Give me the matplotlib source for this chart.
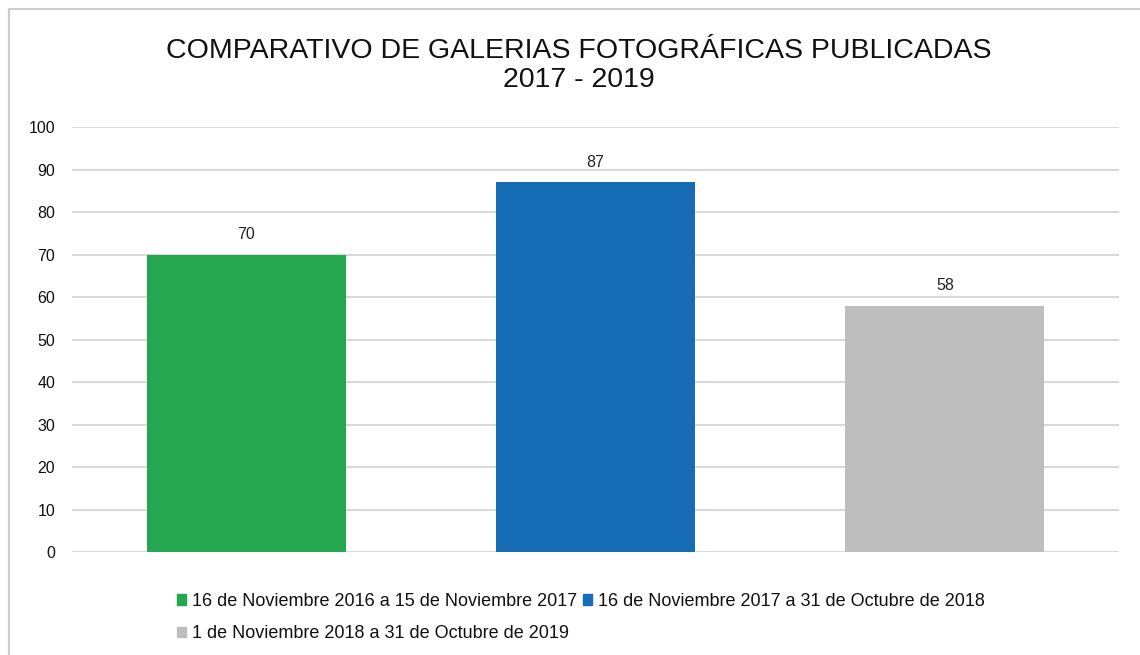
import matplotlib.pyplot as plt
from matplotlib.patches import Patch

plt.rcParams['font.family'] = ['Liberation Sans', 'DejaVu Sans']

# data
periods = ['16 de Noviembre 2016 a 15 de Noviembre 2017',
           '16 de Noviembre 2017 a 31 de Octubre de 2018',
           '1 de Noviembre 2018 a 31 de Octubre de 2019']
galleries = [70, 87, 58]
colors = ['#25a74f', '#176db5', '#bebebe']
yticks = [0, 10, 20, 30, 40, 50, 60, 70, 80, 90, 100]

fig = plt.figure(figsize=(11.4, 6.55), dpi=100)
ax = fig.add_axes([0.063, 0.157, 0.919, 0.649])

x = range(len(galleries))
bars = ax.bar(x, galleries, width=0.57, color=colors, zorder=3)
for xi, v in zip(x, galleries):
    ax.text(xi, v + 3, str(v), ha='center', va='bottom', fontsize=11.5, color='#222222')

ax.set_xlim(-0.5, 2.5)
ax.set_ylim(0, 100)
ax.set_yticks(yticks)
ax.set_xticks([])
ax.tick_params(axis='y', length=0, labelsize=11.5, colors='#111111', pad=12)
ax.grid(axis='y', color='#d9d9d9', linewidth=1.5, zorder=0)
for s in ax.spines.values():
    s.set_visible(False)

fig.text(0.5075, 0.9, 'COMPARATIVO DE GALERIAS FOTOGRÁFICAS PUBLICADAS\n2017 - 2019',
         ha='center', va='center', fontsize=20.5, color='#111111', linespacing=1.16)

# legend (reordered so it fills like the original: green, blue / gray)
handles = [Patch(color=c) for c in colors]
order = [0, 2, 1]
leg = fig.legend([handles[i] for i in order], [periods[i] for i in order],
                 ncol=2, loc='upper left', bbox_to_anchor=(0.1555, 0.095),
                 frameon=False, fontsize=13, handlelength=0.5, handleheight=0.5,
                 handletextpad=0.3, columnspacing=0.35, labelspacing=0.85,
                 borderaxespad=0, borderpad=0)
for t in leg.get_texts():
    t.set_color('#111111')

# outer border (top and left visible)
fig.add_artist(plt.Line2D([0.008, 1], [0.986, 0.986], color='#cccccc', lw=1.5))
fig.add_artist(plt.Line2D([0.008, 0.008], [0, 0.986], color='#cccccc', lw=1.5))

fig.savefig('out.png', dpi=100)
